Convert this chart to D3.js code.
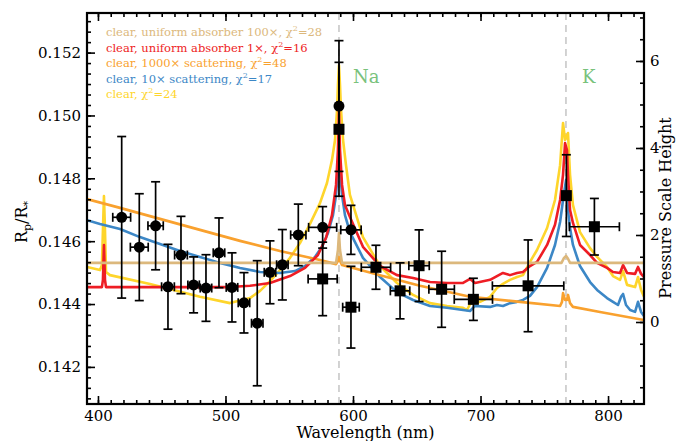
<!DOCTYPE html>
<html>
<head>
<meta charset="utf-8">
<script src="https://cdn.jsdelivr.net/npm/d3@7"></script>
<style>
body { margin: 0; background: #fff; }
text { font-family: "DejaVu Serif", "Liberation Serif", serif; }
</style>
</head>
<body>
<div id="chart"></div>
<script>
// measured points (circles = dataset 1, squares = dataset 2)
var circleWl    = [418.6, 432.4, 445.2, 454.9, 465.1, 475.0, 484.7, 494.9, 505.1, 514.5, 524.9, 534.9, 544.6, 557.1, 576.2, 589.0, 598.4];
var circleWlErr = [7, 7, 6, 5, 5, 4.5, 4.5, 4.5, 4.5, 4.5, 4.5, 4.5, 4.5, 6, 11, 1.5, 8];
var circleRp    = [0.14676, 0.14581, 0.14649, 0.14455, 0.14556, 0.14461, 0.14451, 0.14563, 0.14453, 0.14404, 0.14339, 0.14501, 0.14525, 0.14620, 0.14644, 0.15030, 0.14636];
var circleErr   = [0.00257, 0.0017, 0.0014, 0.00135, 0.00123, 0.00089, 0.00106, 0.00111, 0.0011, 0.00096, 0.00199, 0.0010, 0.00112, 0.00098, 0.00066, 0.00208, 0.00078];

var squareWl    = [576.2, 589.0, 598.4, 618.0, 636.9, 651.8, 669.5, 694.4, 737.3, 767.3, 789.3];
var squareWlErr = [11.4, 1.5, 6.5, 11.5, 7.6, 8, 10, 15, 28, 1.5, 19.6];
var squareRp    = [0.14480, 0.14956, 0.14390, 0.14517, 0.14442, 0.14522, 0.14447, 0.14415, 0.14458, 0.14745, 0.14646];
var squareErr   = [0.00117, 0.00213, 0.0013, 0.0007, 0.00089, 0.00114, 0.00121, 0.00067, 0.00146, 0.0013, 0.0009];

// model spectra [wavelength nm, Rp/R*]
var modelAbsorber100 = [[391.4,0.14531],[586.7,0.14531],[588.2,0.14572],[589.0,0.14626],[589.8,0.14572],[591.4,0.14531],
  [763.5,0.14531],[765.5,0.14547],[767.1,0.14553],[768.6,0.14544],[770.2,0.14531],[828.2,0.14531]];

var modelAbsorber1 = [[391.4,0.14454],[403.1,0.14454],[403.9,0.14477],[404.7,0.14588],[405.5,0.14477],[406.3,0.14454],
  [503.5,0.14454],[519.2,0.14458],[534.9,0.14467],[550.6,0.14489],[562.4,0.14515],[572.5,0.14556],[578.8,0.14610],
  [583.5,0.14683],[586.7,0.14779],[588.2,0.14890],[589.0,0.15017],[589.8,0.14890],[591.4,0.14779],[593.7,0.14715],
  [597.6,0.14677],[607.8,0.14582],[621.2,0.14521],[634.5,0.14492],[647.1,0.14483],[660.4,0.14470],[673.7,0.14467],
  [686.3,0.14467],[691.8,0.14480],[695.7,0.14467],[707.5,0.14477],[712.9,0.14489],[717.6,0.14499],[723.1,0.14492],
  [728.6,0.14499],[733.3,0.14502],[738.8,0.14521],[744.3,0.14534],[752.2,0.14588],[758.4,0.14652],[762.4,0.14731],
  [764.7,0.14811],[766.3,0.14912],[767.8,0.14890],[768.6,0.14811],[770.2,0.14699],[772.5,0.14658],[778.0,0.14588],
  [785.9,0.14556],[791.4,0.14531],[799.2,0.14515],[803.9,0.14502],[809.4,0.14499],[811.8,0.14524],[814.9,0.14499],
  [821.2,0.14496],[823.5,0.14518],[825.9,0.14496],[828.2,0.14486]];

var modelScatter1000 = [[391.4,0.14734],[417.3,0.14706],[448.6,0.14671],[480.0,0.14636],[511.4,0.14601],[542.7,0.14569],
  [574.1,0.14540],[586.7,0.14527],[588.2,0.14537],[589.0,0.14550],[589.8,0.14537],[591.4,0.14524],[621.2,0.14492],
  [652.5,0.14458],[691.8,0.14423],[731.0,0.14407],[762.4,0.14394],[763.9,0.14407],[764.7,0.14435],[766.3,0.14413],
  [767.8,0.14413],[768.6,0.14429],[770.2,0.14403],[772.5,0.14391],[793.7,0.14375],[828.2,0.14349]];

var modelScatter10 = [[391.4,0.14667],[401.6,0.14655],[417.3,0.14639],[432.9,0.14613],[448.6,0.14591],[464.3,0.14569],
  [480.0,0.14550],[495.7,0.14531],[511.4,0.14515],[527.1,0.14502],[542.7,0.14499],[554.5,0.14505],[562.4,0.14521],
  [570.2,0.14550],[575.7,0.14582],[580.4,0.14626],[584.3,0.14683],[586.7,0.14747],[588.2,0.14826],[589.0,0.14890],
  [589.8,0.14826],[591.4,0.14747],[593.7,0.14683],[597.6,0.14629],[607.8,0.14547],[621.2,0.14486],[634.5,0.14438],
  [647.1,0.14413],[660.4,0.14394],[673.7,0.14388],[686.3,0.14381],[691.8,0.14378],[695.7,0.14394],[707.5,0.14391],
  [712.9,0.14397],[717.6,0.14394],[723.1,0.14403],[728.6,0.14407],[733.3,0.14413],[738.8,0.14426],[744.3,0.14454],
  [752.2,0.14515],[758.4,0.14588],[762.4,0.14661],[764.7,0.14731],[767.1,0.14795],[768.6,0.14699],[770.2,0.14642],
  [772.5,0.14588],[778.0,0.14521],[785.9,0.14470],[791.4,0.14445],[799.2,0.14419],[803.9,0.14407],[807.8,0.14397],
  [810.2,0.14423],[811.8,0.14432],[814.1,0.14397],[817.3,0.14381],[821.2,0.14375],[823.5,0.14407],[825.9,0.14375],
  [828.2,0.14362]];

var modelClear = [[391.4,0.14518],[401.6,0.14508],[403.1,0.14524],[403.9,0.14636],[404.7,0.14744],[405.5,0.14636],
  [406.3,0.14502],[409.4,0.14492],[440.8,0.14464],[480.0,0.14423],[503.5,0.14403],[519.2,0.14419],[527.1,0.14442],
  [534.9,0.14473],[542.7,0.14508],[550.6,0.14547],[558.4,0.14594],[566.3,0.14655],[574.1,0.14721],[579.6,0.14785],
  [583.5,0.14858],[585.9,0.14922],[587.5,0.15017],[588.2,0.15097],[589.0,0.15160],[589.8,0.15097],[590.6,0.15017],
  [592.2,0.14922],[594.5,0.14842],[597.6,0.14747],[607.8,0.14613],[621.2,0.14521],[634.5,0.14467],[647.1,0.14429],
  [660.4,0.14403],[673.7,0.14394],[686.3,0.14388],[689.4,0.14381],[691.8,0.14400],[699.6,0.14407],[707.5,0.14423],
  [712.9,0.14451],[717.6,0.14464],[723.1,0.14477],[728.6,0.14486],[733.3,0.14492],[738.8,0.14534],[744.3,0.14572],
  [752.2,0.14642],[758.4,0.14731],[762.4,0.14842],[764.7,0.14976],[766.3,0.14922],[768.6,0.14944],[770.2,0.14811],
  [772.5,0.14715],[778.0,0.14629],[785.9,0.14578],[791.4,0.14550],[799.2,0.14518],[803.9,0.14489],[809.4,0.14477],
  [811.8,0.14505],[814.9,0.14461],[821.2,0.14454],[823.5,0.14486],[825.9,0.14445],[828.2,0.14423]];

// legend
var legendNames  = ["clear, uniform absorber 100\u00d7, ", "clear, uniform absorber 1\u00d7, ", "clear, 1000\u00d7 scattering, ", "clear, 10\u00d7 scattering, ", "clear, "];
var legendChi2   = [28, 16, 48, 17, 24];
var legendColors = ["#dcb87c", "#ee1d24", "#f9a12e", "#3c87c6", "#fed52b"];

// axis ticks
var xMajor = [400, 500, 600, 700, 800];
var yMajor = [0.142, 0.144, 0.146, 0.148, 0.150, 0.152];
var rMajor = [0, 2, 4, 6];
var lines = [{name: "Na", wl: 589.0}, {name: "K", wl: 767.0}];

var width = 676, height = 441;
var pLeft = 87, pRight = 644, pTop = 13, pBottom = 404;

var svg = d3.select("#chart").append("svg")
  .attr("width", width)
  .attr("height", height);

var x = d3.scaleLinear().domain([391.4, 828.2]).range([pLeft, pRight]);
var y = d3.scaleLinear().domain([0.14082, 0.15326]).range([pBottom, pTop]);
var yR = d3.scaleLinear().domain([-1.885, 7.103]).range([pBottom, pTop]);

svg.append("clipPath").attr("id", "clip")
  .append("rect").attr("x", pLeft).attr("y", pTop)
  .attr("width", pRight - pLeft).attr("height", pBottom - pTop);

// Na / K dashed markers
svg.selectAll(".lineMark").data(lines).enter().append("line")
  .attr("x1", function(d) { return x(d.wl); })
  .attr("x2", function(d) { return x(d.wl); })
  .attr("y1", pTop).attr("y2", pBottom)
  .style("stroke", "#c8c8c8").style("stroke-width", 1.6)
  .style("stroke-dasharray", "7,5");

svg.selectAll(".lineLabel").data(lines).enter().append("text")
  .attr("x", function(d) { return x(d.wl) + (d.name == "Na" ? 14 : 16); })
  .attr("y", 83)
  .style("font-size", "18px")
  .style("fill", "#79c27c")
  .text(function(d) { return d.name; });

// models
var line = d3.line()
  .x(function(d) { return x(d[0]); })
  .y(function(d) { return y(d[1]); });

var models = [
  {data: modelClear, color: legendColors[4]},
  {data: modelScatter10, color: legendColors[3]},
  {data: modelScatter1000, color: legendColors[2]},
  {data: modelAbsorber1, color: legendColors[1]},
  {data: modelAbsorber100, color: legendColors[0]}
];

var g = svg.append("g").attr("clip-path", "url(#clip)");
models.forEach(function(m) {
  g.append("path")
    .attr("d", line(m.data))
    .style("fill", "none")
    .style("stroke", m.color)
    .style("stroke-width", 2.6)
    .style("stroke-linejoin", "round");
});

// error bars
function errorBars(wl, wlErr, rp, err) {
  var cap = 4.5;
  for (var i = 0; i < wl.length; i++) {
    var cx = x(wl[i]), cy = y(rp[i]);
    var y0 = y(rp[i] - err[i]), y1 = y(rp[i] + err[i]);
    var x0 = x(wl[i] - wlErr[i]), x1 = x(wl[i] + wlErr[i]);
    var segs = [
      [cx, y0, cx, y1], [cx - cap, y0, cx + cap, y0], [cx - cap, y1, cx + cap, y1],
      [x0, cy, x1, cy], [x0, cy - cap, x0, cy + cap], [x1, cy - cap, x1, cy + cap]
    ];
    segs.forEach(function(s) {
      svg.append("line")
        .attr("x1", s[0]).attr("y1", s[1]).attr("x2", s[2]).attr("y2", s[3])
        .style("stroke", "#000").style("stroke-width", 1.7);
    });
  }
}
errorBars(circleWl, circleWlErr, circleRp, circleErr);
errorBars(squareWl, squareWlErr, squareRp, squareErr);

svg.selectAll(".dot").data(circleWl).enter().append("circle")
  .attr("cx", function(d) { return x(d); })
  .attr("cy", function(d, i) { return y(circleRp[i]); })
  .attr("r", 5.5)
  .style("fill", "#000");

svg.selectAll(".sq").data(squareWl).enter().append("rect")
  .attr("x", function(d) { return x(d) - 5.5; })
  .attr("y", function(d, i) { return y(squareRp[i]) - 5.5; })
  .attr("width", 11).attr("height", 11)
  .style("fill", "#000");

// axes
function minorTicks(lo, hi, step) {
  var out = [];
  var n = Math.round((hi - lo) / step);
  for (var i = 0; i <= n; i++) out.push(lo + i * step);
  return out;
}
var xMinor = minorTicks(400, 820, 10);
var yMinor = minorTicks(0.141, 0.153, 0.002 / 6);
var rMinor = minorTicks(-1.5, 7, 0.5);

function styleAxis(sel) {
  sel.select(".domain").remove();
  sel.selectAll("line").style("stroke", "#000").style("stroke-width", 1.6);
  sel.selectAll("text").style("font-size", "15px").style("fill", "#000")
    .style("font-family", "'DejaVu Serif', serif");
}

svg.append("g").attr("transform", "translate(0," + pBottom + ")")
  .call(d3.axisBottom(x).tickValues(xMajor).tickSize(-8).tickPadding(6).tickFormat(d3.format("d")))
  .call(styleAxis);
svg.append("g").attr("transform", "translate(0," + pBottom + ")")
  .call(d3.axisBottom(x).tickValues(xMinor).tickSize(-4).tickFormat(""))
  .call(styleAxis);
svg.append("g").attr("transform", "translate(0," + pTop + ")")
  .call(d3.axisTop(x).tickValues(xMajor).tickSize(-8).tickFormat(""))
  .call(styleAxis);
svg.append("g").attr("transform", "translate(0," + pTop + ")")
  .call(d3.axisTop(x).tickValues(xMinor).tickSize(-4).tickFormat(""))
  .call(styleAxis);

svg.append("g").attr("transform", "translate(" + pLeft + ",0)")
  .call(d3.axisLeft(y).tickValues(yMajor).tickSize(-8).tickPadding(6).tickFormat(d3.format(".3f")))
  .call(styleAxis);
svg.append("g").attr("transform", "translate(" + pLeft + ",0)")
  .call(d3.axisLeft(y).tickValues(yMinor.filter(function(v) { return v > 0.1408 && v < 0.1533; })).tickSize(-4).tickFormat(""))
  .call(styleAxis);

svg.append("g").attr("transform", "translate(" + pRight + ",0)")
  .call(d3.axisRight(yR).tickValues(rMajor).tickSize(-8).tickPadding(6).tickFormat(d3.format("d")))
  .call(styleAxis);
svg.append("g").attr("transform", "translate(" + pRight + ",0)")
  .call(d3.axisRight(yR).tickValues(rMinor).tickSize(-4).tickFormat(""))
  .call(styleAxis);

svg.append("rect")
  .attr("x", pLeft).attr("y", pTop)
  .attr("width", pRight - pLeft).attr("height", pBottom - pTop)
  .style("fill", "none").style("stroke", "#000").style("stroke-width", 2.2);

// legend
legendNames.forEach(function(name, i) {
  var t = svg.append("text")
    .attr("x", 106).attr("y", 36 + i * 15.6)
    .style("font-size", "11.5px")
    .style("fill", legendColors[i]);
  t.append("tspan").text(name + "\u03c7");
  t.append("tspan").attr("dy", -5).style("font-size", "8px").text("2");
  t.append("tspan").attr("dy", 5).text("=" + legendChi2[i]);
});

// axis titles
svg.append("text")
  .attr("x", (pLeft + pRight) / 2).attr("y", 438)
  .attr("text-anchor", "middle")
  .style("font-size", "16px")
  .text("Wavelength (nm)");

var yt = svg.append("text")
  .attr("transform", "translate(27,222) rotate(-90)")
  .attr("text-anchor", "middle")
  .style("font-size", "16px");
yt.append("tspan").text("R");
yt.append("tspan").attr("dy", 4).style("font-size", "11px").text("p");
yt.append("tspan").attr("dy", -4).text("/R");
yt.append("tspan").attr("dy", 4).style("font-size", "11px").text("*");

svg.append("text")
  .attr("transform", "translate(671,208) rotate(-90)")
  .attr("text-anchor", "middle")
  .style("font-size", "16px")
  .text("Pressure Scale Height");
</script>
</body>
</html>
